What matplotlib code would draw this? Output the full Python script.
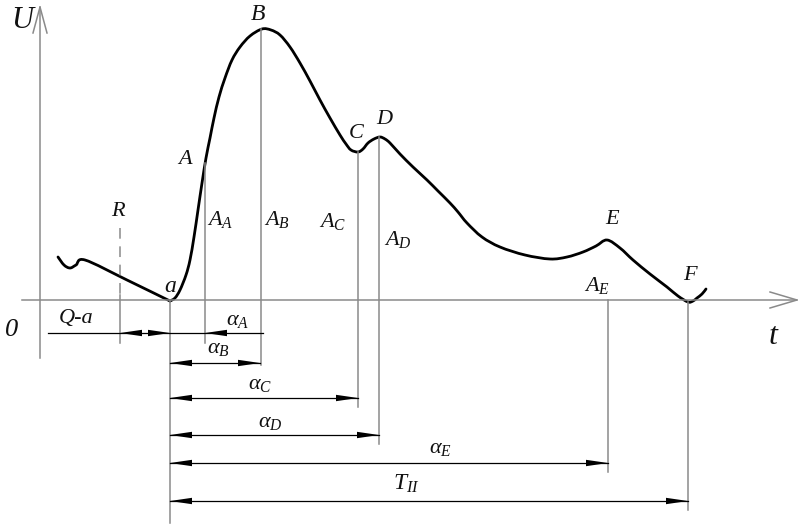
import matplotlib
matplotlib.use("Agg")
import matplotlib.pyplot as plt
from matplotlib.path import Path
from matplotlib.patches import PathPatch

# ---- data (pixel-space drawing coordinates of the diagram) ----
# tail before point a
tail_x = [58, 64, 70, 76, 85, 127, 170]
tail_y = [257, 265, 268, 265, 260, 280, 301]
# main pulse from a to F
curve_x = [170, 175, 180, 186, 190, 194, 198, 202, 206, 210, 214, 219, 225, 232, 240, 250, 262,
           271, 280, 290, 300, 310, 320, 330, 340, 346, 351, 358, 363, 368, 374,
           380, 385, 390, 400, 413, 427, 438, 450, 458, 467, 482, 500, 525, 550, 567, 583, 596, 607,
           620, 633, 650, 667, 678, 688, 693, 697, 702, 706]
curve_y = [301, 298, 290, 275, 260, 237, 210, 183, 158, 138, 118, 97, 78, 60, 47, 36, 29,
           30, 35, 47, 63, 81, 100, 118, 135, 144, 150, 152, 149, 143, 139,
           137, 139, 143, 154, 167, 180, 191, 203, 212, 223, 237, 247, 255, 259, 257, 252, 246, 240,
           248, 260, 274, 287, 296, 302, 301, 298, 294, 289]

axis_y = 300
u_axis_x = 40
a_x = 170

# vertical reference lines: x, y_top, y_bottom
vlines_x = [205, 261, 358, 379, 608, 688, 170]
vlines_top = [163, 29, 152, 137, 300, 302, 301]
vlines_bot = [343, 365, 407, 444, 472, 510, 523]

# dimension lines: y, x_start, x_end
dim_y = [363, 398, 435, 463, 501]
dim_x0 = [170, 170, 170, 170, 170]
dim_x1 = [260, 358, 379, 608, 688]

# Q-a line
qa_y = 333
qa_x0, qa_x1 = 48, 263
r_x = 120

labels = ["U", "B", "A", "R", "C", "D", "E", "F", "a", "t",
          r"$A_A$", r"$A_B$", r"$A_C$", r"$A_D$", r"$A_E$",
          r"$\alpha_A$", r"$\alpha_B$", r"$\alpha_C$", r"$\alpha_D$", r"$\alpha_E$",
          "Q-a", "0", r"$T_{II}$"]
label_x = [22, 258, 185, 118, 356, 384, 612, 690, 170, 773,
           220, 277, 333, 398, 597,
           238, 218, 260, 270, 440,
           76, 12, 406]
label_y = [20, 14, 160, 212, 134, 120, 219, 276, 287, 336,
           220, 220, 222, 239, 286,
           320, 349, 385, 422, 448,
           318, 330, 484]
label_size = [22, 17, 16, 16, 16, 16, 16, 16, 17, 23,
              16, 16, 16, 16, 16,
              16, 16, 16, 16, 16,
              16, 19, 17]

plt.rcParams["mathtext.fontset"] = "custom"
plt.rcParams["mathtext.it"] = "Liberation Serif:italic"
plt.rcParams["mathtext.rm"] = "Liberation Serif:italic"

fig = plt.figure(figsize=(8.0, 5.26), dpi=100)
ax = fig.add_axes([0, 0, 1, 1])
ax.set_xlim(0, 800)
ax.set_ylim(526, 0)
ax.axis("off")

grey = "#8a8a8a"

# axes
ax.plot([u_axis_x, u_axis_x], [7, 358], color=grey, lw=1.1)
ax.plot([u_axis_x - 7, u_axis_x, u_axis_x + 7], [33, 7, 33], color=grey, lw=1.1)
ax.plot([22, 797], [axis_y, axis_y], color=grey, lw=1.1)
ax.plot([770, 797, 770], [292, axis_y, 308], color=grey, lw=1.1)

# vertical lines
for x, y0, y1 in zip(vlines_x, vlines_top, vlines_bot):
    ax.plot([x, x], [y0, y1], color=grey, lw=1.1)

# R line: dashed then solid
ax.plot([r_x, r_x], [228, 295], color=grey, lw=1.1, dashes=(7, 5))
ax.plot([r_x, r_x], [295, 343], color=grey, lw=1.1)


def smooth_path(xs, ys):
    """Catmull-Rom through the points, drawn as cubic Bezier segments."""
    n = len(xs)
    verts = [(xs[0], ys[0])]
    codes = [Path.MOVETO]
    for i in range(n - 1):
        p0 = (xs[max(i - 1, 0)], ys[max(i - 1, 0)])
        p1 = (xs[i], ys[i])
        p2 = (xs[i + 1], ys[i + 1])
        p3 = (xs[min(i + 2, n - 1)], ys[min(i + 2, n - 1)])
        c1 = (p1[0] + (p2[0] - p0[0]) / 6, p1[1] + (p2[1] - p0[1]) / 6)
        c2 = (p2[0] - (p3[0] - p1[0]) / 6, p2[1] - (p3[1] - p1[1]) / 6)
        verts += [c1, c2, p2]
        codes += [Path.CURVE4] * 3
    return Path(verts, codes)


for xs, ys in [(tail_x, tail_y), (curve_x, curve_y)]:
    ax.add_patch(PathPatch(smooth_path(xs, ys), fill=False, edgecolor="black", lw=2.0,
                           joinstyle="round", capstyle="round"))


def arrowhead(tip_x, y, direction):
    L, w = 22, 3.2
    base = tip_x - direction * L
    ax.fill([tip_x, base, base], [y, y - w, y + w], color="black", lw=0)


# dimension lines
for y, x0, x1 in zip(dim_y, dim_x0, dim_x1):
    ax.plot([x0, x1], [y, y], color="black", lw=0.9)
    arrowhead(x0, y, -1)
    arrowhead(x1, y, 1)

ax.plot([qa_x0, qa_x1], [qa_y, qa_y], color="black", lw=0.9)
arrowhead(r_x, qa_y, -1)
arrowhead(a_x, qa_y, 1)
arrowhead(vlines_x[0], qa_y, -1)

for s, x, y, fs in zip(labels, label_x, label_y, label_size):
    ax.text(x, y, s, fontsize=fs, fontstyle="italic", family="Liberation Serif",
            ha="center", va="center", color="#111111")

fig.savefig("out.png", dpi=100)
